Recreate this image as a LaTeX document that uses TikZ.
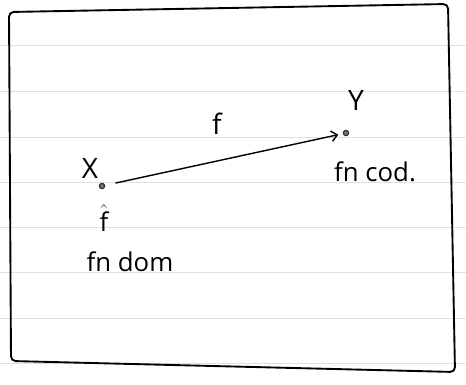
\documentclass[tikz,border=0pt]{standalone}
\usepackage{fontspec}
\setmainfont{Open Sans}
\usetikzlibrary{positioning,arrows.meta}
\tikzset{
  punto/.style={circle, draw=black!80, line width=1pt, fill=black!55, inner sep=1.6pt},
  letra/.style={font=\fontsize{24}{26}\selectfont, inner sep=1pt},
  nota/.style={font=\fontsize{22}{24}\selectfont, inner sep=1pt},
  renglon/.style={black!12, line width=0.8pt},
  marco/.style={line width=1.6pt, rounded corners=4pt},
}
\begin{document}
\begin{tikzpicture}[x=0.03cm, y=-0.03cm]
          \useasboundingbox (0,0) rectangle (466,385);
          \fill[white] (0,0) rectangle (466,385);
          % paper lines
          \foreach \yy in {45,91,137,182,227,272,318,363}
            \draw[renglon] (0,\yy) -- (466,\yy);
          \draw[marco] (9,12) -- (448,4) -- (455,372) -- (11,361) -- cycle;
          \node[punto] (x) at (102,186) {};
          \node[punto] (y) at (346,133) {};
          \node[letra] (lx) at (90,168) {X};
          \node[letra] (ly) at (356,100) {Y};
          \node[letra] (lf) at (217,124) {f};
          \node[nota] (cod) at (375,172) {fn cod.};
          \node[nota] (sub) at (104,218) {$\hat{\mbox{f}}$};
          \node[nota] (dom) at (130,262) {fn dom};
          \draw[-{Straight Barb[length=5pt,width=9pt]}, line width=1.2pt,
            shorten <=9pt, shorten >=4pt] (x) -- (y);
        \end{tikzpicture}
\end{document}
